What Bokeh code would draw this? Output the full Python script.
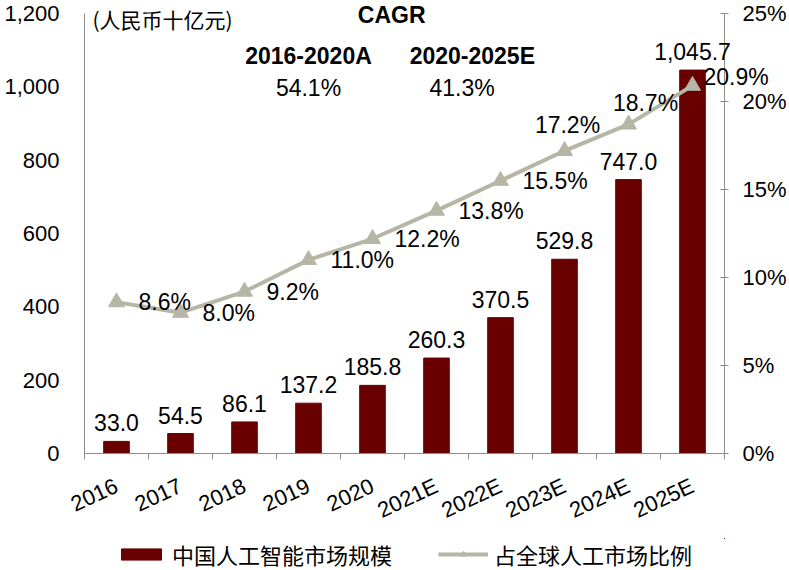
import math
from bokeh.plotting import figure
from bokeh.layouts import column
from bokeh.models import (Range1d, LinearAxis, FixedTicker, NumeralTickFormatter,
                          ColumnDataSource, Legend, LegendItem)
from bokeh.core.properties import value
from bokeh.embed import file_html
from bokeh.resources import INLINE

# ---------------- data ----------------
years = ["2016", "2017", "2018", "2019", "2020", "2021E", "2022E", "2023E", "2024E", "2025E"]
market = [33.0, 54.5, 86.1, 137.2, 185.8, 260.3, 370.5, 529.8, 747.0, 1045.7]
share = [8.6, 8.0, 9.2, 11.0, 12.2, 13.8, 15.5, 17.2, 18.7, 20.9]
left_ticks = [0, 200, 400, 600, 800, 1000, 1200]
right_ticks = [0, 5, 10, 15, 20, 25]
bar_name = "中国人工智能市场规模"
line_name = "占全球人工市场比例"
unit_text = "(人民币十亿元)"
cagr_title = "CAGR"
cagr_periods = ["2016-2020A", "2020-2025E"]
cagr_values = [54.1, 41.3]

# ---------------- styles ----------------
BAR = "#690000"
LINE = "#B6B6A6"
AXIS = "#8C8C8C"
NUM_FONT = "Liberation Sans"
CJK_FONT = "Noto Sans CJK SC"

xs = [i + 0.5 for i in range(len(years))]

# share-label placement (style only; offsets in px, negative = up)
lab_dx = [22, 22, 22, 22, 22, 22, 22, 3, 17, 11]
lab_dy = [0, 0, 0, 0, 0, 0, 0, -26, -21, -9]
lab_align = ["left"] * 7 + ["center", "center", "left"]

src = ColumnDataSource(dict(
    x=xs, market=market, share=share,
    mlab=[f"{v:,.1f}" for v in market],
    slab=[f"{v:.1f}%" for v in share],
    dx=lab_dx, dy=lab_dy, align=lab_align,
))

W = 789
p = figure(width=W, height=538, x_range=Range1d(0, len(years)),
           y_range=Range1d(left_ticks[0], left_ticks[-1]),
           output_backend="svg", toolbar_location=None,
           min_border_left=84, min_border_right=65, min_border_top=13,
           min_border_bottom=85)
p.extra_y_ranges = {"pct": Range1d(right_ticks[0], right_ticks[-1])}
p.xgrid.visible = False
p.ygrid.visible = False
p.outline_line_color = None
p.background_fill_color = "white"
p.border_fill_color = "white"

# left axis
ya = p.yaxis[0]
ya.ticker = FixedTicker(ticks=left_ticks)
ya.formatter = NumeralTickFormatter(format="0,0")
ya.major_tick_line_color = None
ya.minor_tick_line_color = None
ya.major_tick_out = 0
ya.major_tick_in = 0
ya.axis_line_color = AXIS
ya.major_label_standoff = 25
ya.major_label_text_font = NUM_FONT
ya.major_label_text_font_size = "22px"
ya.major_label_text_color = "black"

# right axis
ra = LinearAxis(y_range_name="pct", ticker=FixedTicker(ticks=right_ticks))
ra.major_label_overrides = {t: f"{t}%" for t in right_ticks}
ra.axis_line_color = AXIS
ra.major_tick_line_color = AXIS
ra.major_tick_in = 4
ra.major_tick_out = 4
ra.minor_tick_line_color = None
ra.major_label_standoff = 14
ra.major_label_text_font = NUM_FONT
ra.major_label_text_font_size = "22px"
ra.major_label_text_color = "black"
p.add_layout(ra, "right")

# x axis
xa = p.xaxis[0]
xa.ticker = FixedTicker(ticks=xs, minor_ticks=list(range(len(years) + 1)))
xa.major_label_overrides = {x: y for x, y in zip(xs, years)}
xa.major_tick_line_color = None
xa.major_tick_out = 0
xa.major_tick_in = 0
xa.minor_tick_line_color = AXIS
xa.minor_tick_out = 6
xa.minor_tick_in = 0
xa.axis_line_color = AXIS
xa.major_label_orientation = math.radians(25)
xa.major_label_standoff = 25
xa.major_label_text_font = NUM_FONT
xa.major_label_text_font_size = "22px"
xa.major_label_text_color = "black"

# bars
bars = p.vbar(x="x", top="market", width=0.4, source=src, fill_color=BAR, line_color=BAR)
p.text(x="x", y="market", text="mlab", source=src, text_align="center",
       text_baseline="bottom", y_offset=-10, text_font=value(NUM_FONT),
       text_font_size="23px", text_color="black", level="overlay")

# line
ln = p.line(x="x", y="share", source=src, y_range_name="pct", line_color=LINE, line_width=4)
sc = p.scatter(x="x", y="share", source=src, y_range_name="pct", marker="triangle",
               size=16, fill_color=LINE, line_color=LINE)
p.text(x="x", y="share", text="slab", source=src, y_range_name="pct",
       text_align="align", text_baseline="middle", x_offset="dx", y_offset="dy",
       text_font=value(NUM_FONT), text_font_size="23px", text_color="black",
       level="overlay")

# header texts (unit, CAGR block)
unit_src = ColumnDataSource(dict(x=[0.125], y=[1186], t=[unit_text]))
p.text(x="x", y="y", text="t", source=unit_src, text_align="left",
       text_baseline="middle", text_font=value(CJK_FONT), text_font_size="21px",
       text_color="black", level="overlay")
bold_src = ColumnDataSource(dict(x=[4.8, 3.5, 6.06], y=[1195, 1083, 1083],
                                 t=[cagr_title] + cagr_periods))
p.text(x="x", y="y", text="t", source=bold_src, text_align="center",
       text_baseline="middle", text_font=value(NUM_FONT), text_font_style="bold",
       text_font_size="23px", text_color="black", level="overlay")
val_src = ColumnDataSource(dict(x=[3.5, 5.9], y=[998, 998],
                                t=[f"{v:.1f}%" for v in cagr_values]))
p.text(x="x", y="y", text="t", source=val_src, text_align="center",
       text_baseline="middle", text_font=value(NUM_FONT), text_font_size="23px",
       text_color="black", level="overlay")

# legend strip (separate small figure below the chart); its proxy glyphs
# reuse the data but lie outside the strip's visible ranges
lg = figure(width=W, height=32, x_range=Range1d(-20, -19), y_range=Range1d(-2, -1),
            output_backend="svg", toolbar_location=None,
            min_border_left=0, min_border_right=0, min_border_top=0, min_border_bottom=0)
lg.axis.visible = False
lg.xgrid.visible = False
lg.ygrid.visible = False
lg.outline_line_color = None
lb = lg.vbar(x="x", top="market", width=0.4, source=src, fill_color=BAR, line_color=BAR)
ll = lg.line(x="x", y="share", source=src, line_color=LINE, line_width=4)
ls = lg.scatter(x="x", y="share", source=src, marker="triangle", size=14,
                fill_color=LINE, line_color=LINE)
legend = Legend(items=[LegendItem(label=bar_name, renderers=[lb]),
                       LegendItem(label=line_name, renderers=[ll, ls])],
                orientation="horizontal", location="center",
                border_line_color=None, background_fill_alpha=0,
                label_text_font=CJK_FONT, label_text_font_size="22px",
                label_text_color="black", glyph_width=50, glyph_height=14,
                label_standoff=6, spacing=46, padding=0, margin=0)
lg.add_layout(legend, "center")

layout = column(p, lg, spacing=0)
open("out.html", "w").write(file_html(layout, INLINE))
